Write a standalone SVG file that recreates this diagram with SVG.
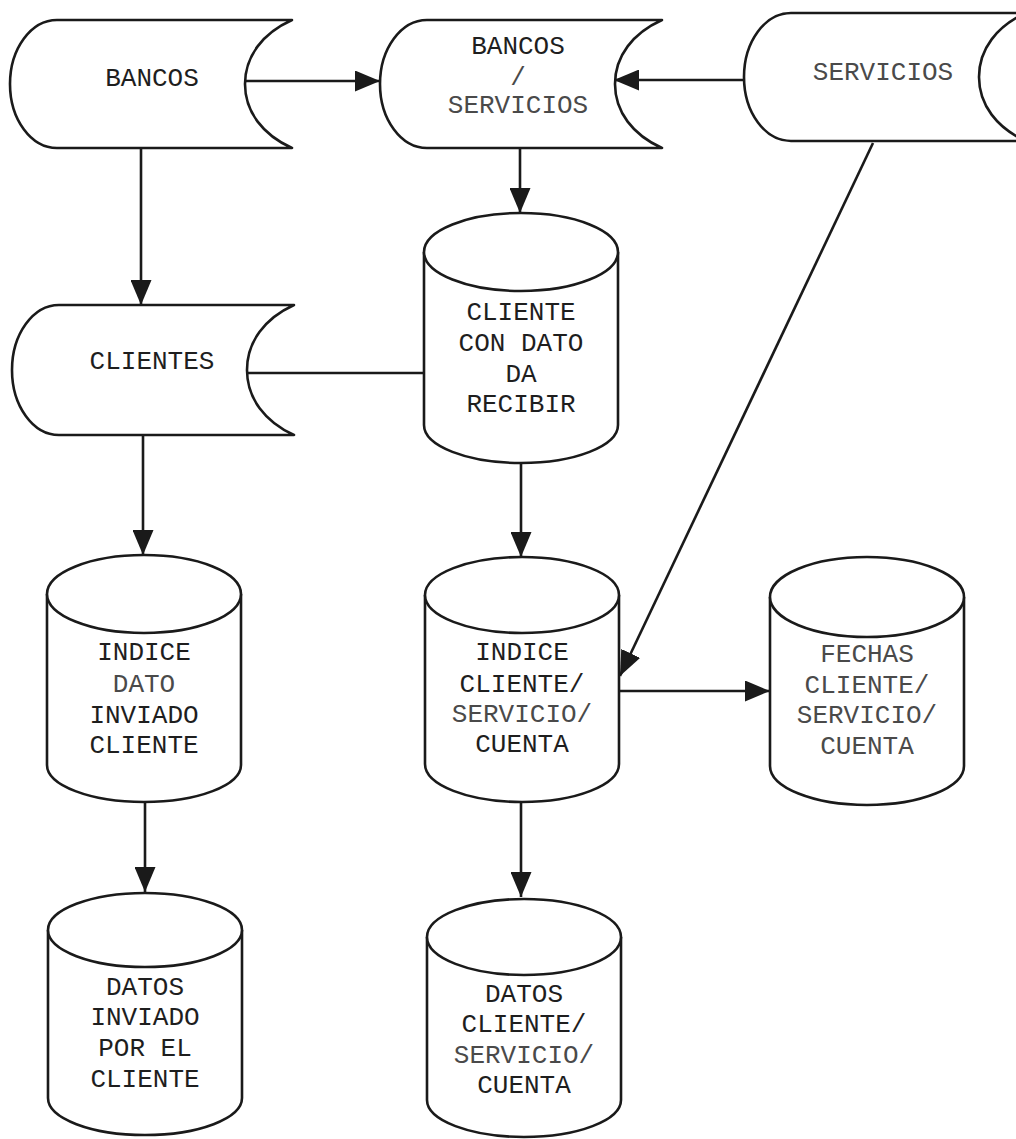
<svg xmlns="http://www.w3.org/2000/svg" width="1016" height="1139" viewBox="0 0 1016 1139">
  <style>
    .shape { fill: #ffffff; stroke: #1a1a1a; stroke-width: 2.6; stroke-linejoin: round; }
    .edge { fill: none; stroke: #1a1a1a; stroke-width: 2.6; }
    .lbl { font-family: "Liberation Mono", "Courier New", monospace; font-size: 26px; fill: #1e1e1e; text-anchor: middle; }
    .soft { fill: #4a4a4a; }
  </style>
  <defs>
    <!-- stored-data (tape) outline: rounded left side, concave right side -->
    <path id="tape" d="M57,20 H292 C263,33 245,56 245,84 C245,112 263,135 292,148 H57 A47,64 0 0 1 57,20 Z"/>
    <marker id="arrow" viewBox="0 0 25 21" markerWidth="25" markerHeight="21" refX="25" refY="10.5" orient="auto" markerUnits="userSpaceOnUse">
      <path d="M0,0 L25,10.5 L0,21 Z" fill="#1a1a1a"/>
    </marker>
  </defs>

  <!-- connectors -->
  <g id="connectors">
    <line class="edge" x1="245" y1="81" x2="380" y2="81" marker-end="url(#arrow)"/>
    <line class="edge" x1="744" y1="80" x2="614" y2="80" marker-end="url(#arrow)"/>
    <line class="edge" x1="141" y1="148" x2="141" y2="305" marker-end="url(#arrow)"/>
    <line class="edge" x1="520" y1="148" x2="520" y2="213" marker-end="url(#arrow)"/>
    <line class="edge" x1="248" y1="373" x2="424" y2="373"/>
    <line class="edge" x1="143" y1="435" x2="143" y2="555" marker-end="url(#arrow)"/>
    <line class="edge" x1="521" y1="463" x2="521" y2="557" marker-end="url(#arrow)"/>
    <line class="edge" x1="873" y1="143" x2="620" y2="676" marker-end="url(#arrow)"/>
    <line class="edge" x1="145" y1="802" x2="145" y2="892" marker-end="url(#arrow)"/>
    <line class="edge" x1="619" y1="691" x2="770" y2="691" marker-end="url(#arrow)"/>
    <line class="edge" x1="521" y1="802" x2="521" y2="897" marker-end="url(#arrow)"/>
  </g>

  <!-- tape nodes -->
  <g id="bancos">
    <use href="#tape" class="shape"/>
    <text class="lbl" x="152" y="86">BANCOS</text>
  </g>
  <g id="bancos-servicios">
    <use href="#tape" class="shape" transform="translate(370,0)"/>
    <text class="lbl" x="518" y="54">BANCOS</text>
    <text class="lbl soft" x="518" y="85">/</text>
    <text class="lbl soft" x="518" y="113">SERVICIOS</text>
  </g>
  <g id="servicios">
    <use href="#tape" class="shape" transform="translate(734,-7)"/>
    <text class="lbl soft" x="883" y="80">SERVICIOS</text>
  </g>
  <g id="clientes">
    <use href="#tape" class="shape" transform="translate(2,0) translate(0,305) scale(1,1.016) translate(0,-20)"/>
    <text class="lbl" x="152" y="369">CLIENTES</text>
  </g>

  <!-- cylinder nodes -->
  <g id="cliente-con-dato">
    <path class="shape" d="M424,252 V425 A97,38 0 0 0 618,425 V252"/>
    <ellipse class="shape" cx="521" cy="252" rx="97" ry="39"/>
    <text class="lbl" x="521" y="320">CLIENTE</text>
    <text class="lbl" x="521" y="351">CON DATO</text>
    <text class="lbl" x="521" y="382">DA</text>
    <text class="lbl" x="521" y="412">RECIBIR</text>
  </g>
  <g id="indice-dato">
    <path class="shape" d="M47,594 V765 A97,37 0 0 0 241,765 V594"/>
    <ellipse class="shape" cx="144" cy="594" rx="97" ry="39"/>
    <text class="lbl" x="144" y="660">INDICE</text>
    <text class="lbl soft" x="144" y="692">DATO</text>
    <text class="lbl" x="144" y="723">INVIADO</text>
    <text class="lbl" x="144" y="753">CLIENTE</text>
  </g>
  <g id="datos-inviado">
    <path class="shape" d="M48,930 V1098 A97,37 0 0 0 242,1098 V930"/>
    <ellipse class="shape" cx="145" cy="930" rx="97" ry="37"/>
    <text class="lbl" x="145" y="995">DATOS</text>
    <text class="lbl" x="145" y="1025">INVIADO</text>
    <text class="lbl" x="145" y="1056">POR EL</text>
    <text class="lbl" x="145" y="1087">CLIENTE</text>
  </g>
  <g id="indice-cliente">
    <path class="shape" d="M425,595 V764 A97,38 0 0 0 619,764 V595"/>
    <ellipse class="shape" cx="522" cy="595" rx="97" ry="38"/>
    <text class="lbl" x="522" y="660">INDICE</text>
    <text class="lbl" x="522" y="692">CLIENTE/</text>
    <text class="lbl soft" x="522" y="722">SERVICIO/</text>
    <text class="lbl" x="522" y="752">CUENTA</text>
  </g>
  <g id="fechas">
    <path class="shape" d="M770,597 V766 A97,39 0 0 0 964,766 V597"/>
    <ellipse class="shape" cx="867" cy="597" rx="97" ry="40"/>
    <text class="lbl soft" x="867" y="662">FECHAS</text>
    <text class="lbl soft" x="867" y="693">CLIENTE/</text>
    <text class="lbl soft" x="867" y="723">SERVICIO/</text>
    <text class="lbl soft" x="867" y="754">CUENTA</text>
  </g>
  <g id="datos-cliente">
    <path class="shape" d="M427,937 V1100 A97,37 0 0 0 621,1100 V937"/>
    <ellipse class="shape" cx="524" cy="937" rx="97" ry="38"/>
    <text class="lbl" x="524" y="1002">DATOS</text>
    <text class="lbl" x="524" y="1032">CLIENTE/</text>
    <text class="lbl soft" x="524" y="1063">SERVICIO/</text>
    <text class="lbl" x="524" y="1093">CUENTA</text>
  </g>
</svg>
